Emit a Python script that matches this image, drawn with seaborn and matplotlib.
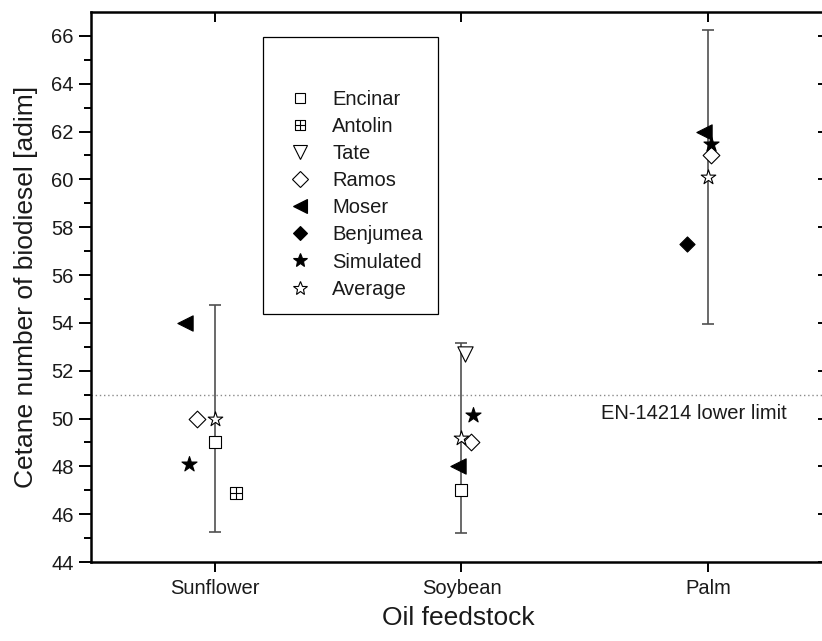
import numpy as np
import pandas as pd
import matplotlib
matplotlib.use("Agg")
import matplotlib.pyplot as plt
from matplotlib.path import Path
from matplotlib.lines import Line2D
import seaborn as sns

# ---------------- data ----------------
feedstocks = ["Sunflower", "Soybean", "Palm"]
nan = np.nan
encinar = [49.0, 47.0, nan]
antolin = [46.9, nan, nan]
tate = [nan, 52.7, nan]
ramos = [50.0, 49.0, 61.0]
moser = [54.0, 48.0, 62.0]
benjumea = [nan, nan, 57.3]
simulated = [48.1, 50.15, 61.5]
average = [50.0, 49.2, 60.1]
std_dev = [4.73, 3.97, 6.13]
limit_value = 51.0
limit_label = "EN-14214 lower limit"
y_ticks = [44, 46, 48, 50, 52, 54, 56, 58, 60, 62, 64, 66]

# horizontal jitter of each series around the category (layout only)
encinar_dx = [0.0, 0.0, 0.0]
antolin_dx = [0.084, 0.0, 0.0]
tate_dx = [0.0, 0.013, 0.0]
ramos_dx = [-0.071, 0.037, 0.012]
moser_dx = [-0.122, -0.016, -0.017]
benjumea_dx = [0.0, 0.0, -0.084]
simulated_dx = [-0.105, 0.045, 0.011]
average_dx = [0.0, 0.0, 0.0]

# boxed plus marker
boxplus = Path(
    [(-1, -1), (1, -1), (1, 1), (-1, 1), (-1, -1), (0, -1), (0, 1), (-1, 0), (1, 0)],
    [Path.MOVETO, Path.LINETO, Path.LINETO, Path.LINETO, Path.CLOSEPOLY,
     Path.MOVETO, Path.LINETO, Path.MOVETO, Path.LINETO],
)

series = [
    ("Encinar", encinar, encinar_dx, "s", 8.5, "white"),
    ("Antolin", antolin, antolin_dx, boxplus, 8.5, "white"),
    ("Tate", tate, tate_dx, "v", 11.0, "white"),
    ("Ramos", ramos, ramos_dx, "D", 8.5, "white"),
    ("Moser", moser, moser_dx, "<", 11.0, "black"),
    ("Benjumea", benjumea, benjumea_dx, "D", 7.7, "black"),
    ("Simulated", simulated, simulated_dx, "*", 11.4, "black"),
    ("Average", average, average_dx, "*", 11.0, "white"),
]

# ---------------- style ----------------
sns.set_style("ticks")
plt.rcParams["font.family"] = ["Liberation Sans", "DejaVu Sans"]
plt.rcParams["text.color"] = "#1a1a1a"
plt.rcParams["axes.labelcolor"] = "#1a1a1a"
plt.rcParams["xtick.color"] = "black"
plt.rcParams["ytick.color"] = "black"
plt.rcParams["xtick.labelcolor"] = "#1a1a1a"
plt.rcParams["ytick.labelcolor"] = "#1a1a1a"

fig = plt.figure(figsize=(8.22, 6.41), dpi=100)
ax = fig.add_axes([91 / 822, 79 / 641, 735 / 822, 550 / 641])

cat_x = np.arange(1, len(feedstocks) + 1)

# error bars around the average
ax.errorbar(cat_x, average, yerr=std_dev, fmt="none", ecolor="#505050",
            elinewidth=1.2, capsize=4.2, capthick=1.2, zorder=1)

# limit line
ax.axhline(limit_value, color="#8a8a8a", linestyle=(0, (1, 2)), linewidth=1.0, zorder=0.5)

handles = []
for name, vals, dx, mk, ms, fc in series:
    df = pd.DataFrame({"x": cat_x + np.array(dx), "y": vals}).dropna()
    sns.scatterplot(data=df, x="x", y="y", ax=ax, marker=mk, s=ms ** 2,
                    facecolor=fc, edgecolor="black", linewidth=0.8,
                    legend=False, zorder=3)
    handles.append(Line2D([], [], linestyle="none", marker=mk, markersize=ms * 0.92,
                          markerfacecolor=fc, markeredgecolor="black",
                          markeredgewidth=0.8, label=name))

ax.text(3.32, 50.2, limit_label, ha="right", va="center", fontsize=14.5)

ax.set_xlim(0.497, 3.479)
ax.set_ylim(44, 67)
ax.set_xticks(cat_x)
ax.set_xticklabels(feedstocks)
ax.set_yticks(y_ticks)
ax.set_yticks(np.arange(45, 67, 2), minor=True)
ax.set_xlabel("Oil feedstock", fontsize=19, labelpad=6)
ax.set_ylabel("Cetane number of biodiesel [adim]", fontsize=19, labelpad=9)

for s in ["left", "bottom", "top"]:
    ax.spines[s].set_linewidth(1.8)
    ax.spines[s].set_color("black")
ax.spines["right"].set_visible(False)

ax.tick_params(axis="y", which="major", direction="out", length=8.6, width=1.4,
               labelsize=14.5, pad=4)
ax.tick_params(axis="y", which="minor", direction="out", length=5, width=1.4)
ax.tick_params(axis="x", which="major", direction="out", length=7.2, width=1.4,
               labelsize=14.5, pad=5)

# mirrored inward ticks on top and right
top = ax.secondary_xaxis("top")
top.set_xticks(cat_x)
top.tick_params(direction="in", length=7, width=1.4, labeltop=False)
top.spines["top"].set_visible(False)
right = ax.secondary_yaxis("right")
right.set_yticks(y_ticks)
right.tick_params(direction="in", length=6, width=1.4, labelright=False)

leg = ax.legend(handles=handles, loc="upper left", bbox_to_anchor=(0.2336, 0.9545),
                borderaxespad=0, frameon=True, fancybox=False, fontsize=14.5,
                title=" ", title_fontsize=23, borderpad=0.75, labelspacing=0.40,
                handlelength=2.2, handletextpad=0.5)
leg.get_frame().set_edgecolor("black")
leg.get_frame().set_linewidth(0.9)
leg.get_frame().set_alpha(1)

fig.savefig("out.png", dpi=100)
